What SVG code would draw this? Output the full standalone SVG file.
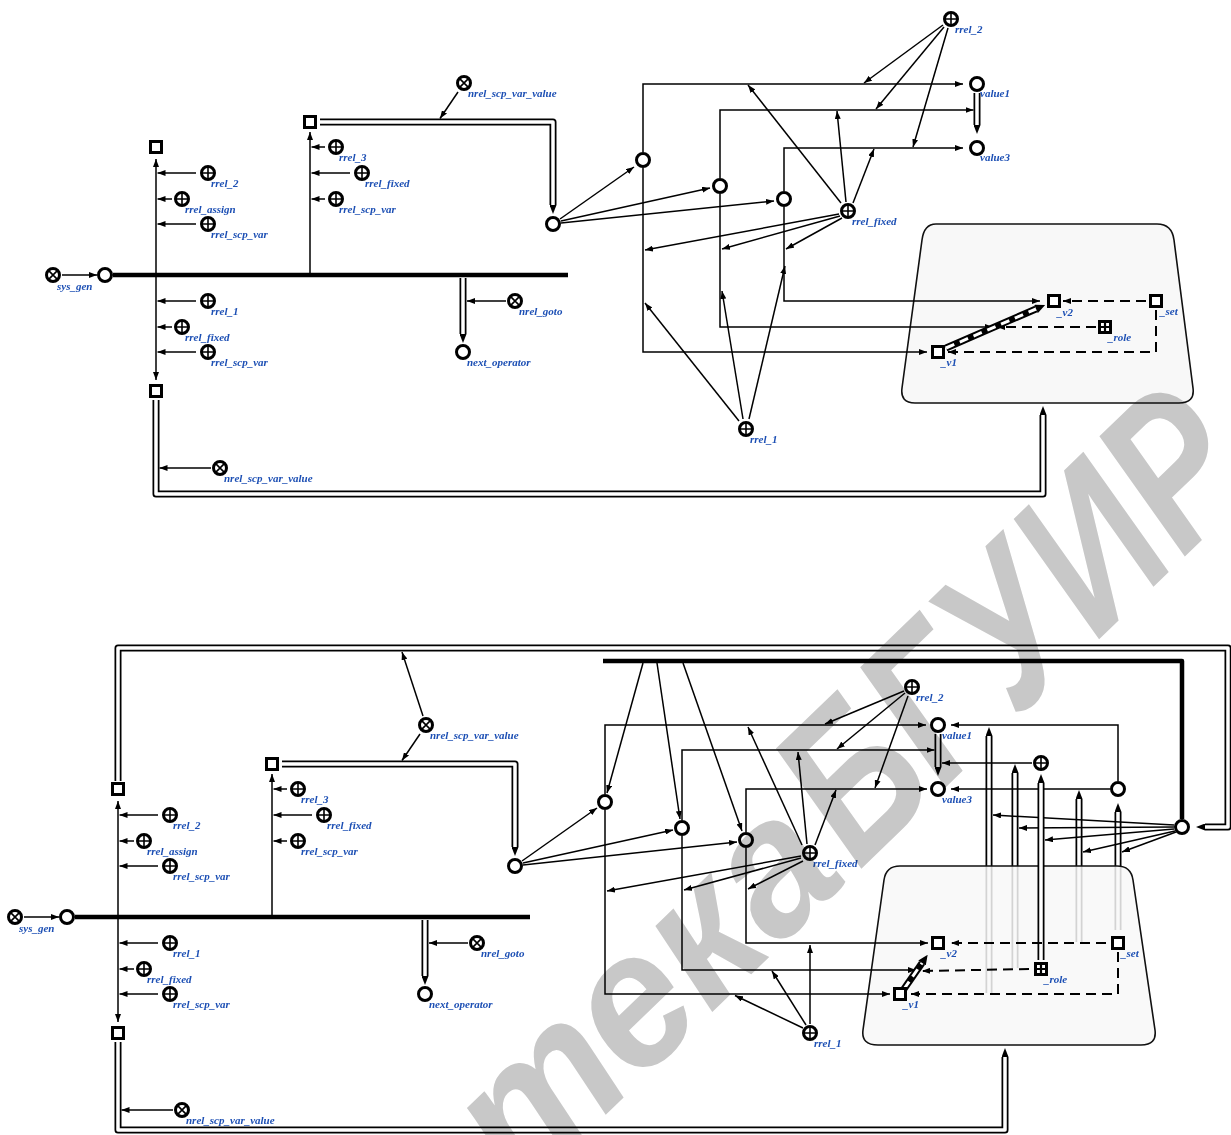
<svg xmlns="http://www.w3.org/2000/svg" xmlns:xlink="http://www.w3.org/1999/xlink" width="1231" height="1135" viewBox="0 0 1231 1135">
<style>
.l{stroke:#000;stroke-width:1.5;fill:none;marker-end:url(#ah)}
.p{stroke:#000;stroke-width:1.5;fill:none}
.tk{stroke:#000;stroke-width:4.5;fill:none;stroke-linejoin:round}
.dlo{stroke:#000;stroke-width:7;fill:none;stroke-linejoin:round;marker-end:url(#dh)}
.dli{stroke:#fff;stroke-width:3.5;fill:none;stroke-linejoin:round}
.ds{stroke:#000;stroke-width:2;stroke-dasharray:10 6;fill:none;marker-end:url(#ah)}
.ao{stroke:#000;stroke-width:7;fill:none;marker-end:url(#bh)}
.ai{stroke:#fff;stroke-width:3;fill:none;stroke-dasharray:9 6}
.t{font-family:"Liberation Serif",serif;font-style:italic;font-weight:bold;font-size:11px;fill:#1c4fb4}
.ct{fill:#f8f8f8;stroke:#111;stroke-width:1.6}
.wm{font-family:"Liberation Sans",sans-serif;font-style:italic;font-weight:bold;fill:#c8c8c8;mix-blend-mode:multiply}
</style>
<defs>
<marker id="ah" viewBox="0 0 8 6" refX="8" refY="3" markerWidth="8" markerHeight="6" markerUnits="userSpaceOnUse" orient="auto"><path d="M0,0L8,3L0,6z" fill="#000"/></marker>
<marker id="dh" viewBox="0 0 9 7" refX="0" refY="3.5" markerWidth="9" markerHeight="7" markerUnits="userSpaceOnUse" orient="auto"><path d="M0,0L9,3.5L0,7z" fill="#000"/></marker>
<marker id="bh" viewBox="0 0 10 9" refX="0" refY="4.5" markerWidth="10" markerHeight="9" markerUnits="userSpaceOnUse" orient="auto"><path d="M0,0L10,4.5L0,9z" fill="#000"/></marker>
<circle id="gc" r="6.5" fill="#fff" stroke="#000" stroke-width="3"/>
<g id="gp"><circle r="6.5" fill="#fff" stroke="#000" stroke-width="3"/><path d="M-6.5,0H6.5M0,-6.5V6.5" stroke="#000" stroke-width="1.6"/></g>
<g id="gx"><circle r="6.5" fill="#fff" stroke="#000" stroke-width="3"/><path d="M-4.6,-4.6L4.6,4.6M-4.6,4.6L4.6,-4.6" stroke="#000" stroke-width="1.6"/></g>
<rect id="gs" x="-5.5" y="-5.5" width="11" height="11" fill="#fff" stroke="#000" stroke-width="3"/>
<g id="gr"><rect x="-5.5" y="-5.5" width="11" height="11" fill="#fff" stroke="#000" stroke-width="3"/><path d="M-5.5,0H5.5M0,-5.5V5.5" stroke="#000" stroke-width="2.2"/></g>
</defs>
<rect width="1231" height="1135" fill="#fff"/>

<!-- contours and faded arcs -->
<g id="contour-top"><path class="ct" d="M936,224L1157,224Q1172,224 1174,240L1193,388Q1195,403 1179,403L915,403Q900,403 902,388L922,240Q924,224 936,224Z"/></g>
<g id="faded-arcs">
<path class="dlo" d="M989,993L989,736"/><path class="dli" d="M989,993L989,736"/>
<path class="dlo" d="M1015,968L1015,773"/><path class="dli" d="M1015,968L1015,773"/>
<path class="dlo" d="M1079,942L1079,799"/><path class="dli" d="M1079,942L1079,799"/>
<path class="dlo" d="M1118,930L1118,812"/><path class="dli" d="M1118,930L1118,812"/>
</g>
<g id="contour-bottom"><path class="ct" fill-opacity="0.85" d="M900,866L1117,866Q1131,866 1133,880L1155,1030Q1157,1045 1141,1045L878,1045Q861,1045 863,1030L884,880Q886,866 900,866Z"/></g>

<g id="connectors">
<!-- TOP -->
<path class="l" d="M62,275L97,275"/>
<path class="tk" d="M113,275L568,275"/>
<path class="l" d="M156,275L156,159"/>
<path class="l" d="M156,275L156,380"/>
<path class="l" d="M196,173L157.5,173"/>
<path class="l" d="M172,199L157.5,199"/>
<path class="l" d="M196,224L157.5,224"/>
<path class="l" d="M196,301L157.5,301"/>
<path class="l" d="M172,327L157.5,327"/>
<path class="l" d="M196,352L157.5,352"/>
<path class="l" d="M310,275L310,132"/>
<path class="l" d="M325,147L311.5,147"/>
<path class="l" d="M350,173L311.5,173"/>
<path class="l" d="M325,199L311.5,199"/>
<path class="dlo" d="M320,122L553,122L553,205"/><path class="dli" d="M320,122L553,122L553,205"/>
<path class="l" d="M458,92L440,118.5"/>
<path class="dlo" d="M463,278L463,334"/><path class="dli" d="M463,278L463,334"/>
<path class="l" d="M506,301L467,301"/>
<path class="l" d="M560,219L634,167"/>
<path class="l" d="M561,221L710,188"/>
<path class="l" d="M561,223L774,201"/>
<path class="l" d="M643,152L643,84L963,84"/>
<path class="l" d="M643,168L643,352L927,352"/>
<path class="l" d="M720,178L720,110L973.5,110"/>
<path class="l" d="M720,194L720,327L993,327"/>
<path class="l" d="M784,191L784,148L963,148"/>
<path class="l" d="M784,207L784,301L1040,301"/>
<path class="dlo" d="M977,93L977,125"/><path class="dli" d="M977,93L977,125"/>
<path class="l" d="M943,25L864,83"/>
<path class="l" d="M944,27L876,109"/>
<path class="l" d="M948,28L913,147"/>
<path class="l" d="M841,203L748,85"/>
<path class="l" d="M846,202L837,111"/>
<path class="l" d="M853,203L874,149"/>
<path class="l" d="M839,214L645,250"/>
<path class="l" d="M840,216L722,249"/>
<path class="l" d="M842,218L786,249"/>
<path class="l" d="M739,421L645,303"/>
<path class="l" d="M743,419L722,291"/>
<path class="l" d="M749,419L785,266"/>
<path class="ds" d="M1146,301L1063,301"/>
<path class="ds" d="M1156,310L1156,352L948,352"/>
<path class="ds" d="M1096,327L997,327"/>
<path class="ao" d="M946,348L1036,309"/><path class="ai" d="M946,348L1036,309"/>
<path class="dlo" d="M156,400L156,494L1043,494L1043,415"/><path class="dli" d="M156,400L156,494L1043,494L1043,415"/>
<path class="l" d="M211,468L159.5,468"/>

<!-- BOTTOM -->
<path class="l" d="M24,917L59,917"/>
<path class="tk" d="M75,917L530,917"/>
<path class="l" d="M118,917L118,801"/>
<path class="l" d="M118,917L118,1022"/>
<path class="l" d="M158,815L119.5,815"/>
<path class="l" d="M134,841L119.5,841"/>
<path class="l" d="M158,866L119.5,866"/>
<path class="l" d="M158,943L119.5,943"/>
<path class="l" d="M134,969L119.5,969"/>
<path class="l" d="M158,994L119.5,994"/>
<path class="l" d="M272,917L272,774"/>
<path class="l" d="M287,789L273.5,789"/>
<path class="l" d="M312,815L273.5,815"/>
<path class="l" d="M287,841L273.5,841"/>
<path class="dlo" d="M282,764L515,764L515,847"/><path class="dli" d="M282,764L515,764L515,847"/>
<path class="l" d="M420,734L402,760.5"/>
<path class="l" d="M423,716L402,652"/>
<path class="dlo" d="M425,920L425,976"/><path class="dli" d="M425,920L425,976"/>
<path class="l" d="M468,943L429,943"/>
<path class="dlo" d="M118,781L118,648L1228,648L1228,827L1205,827"/><path class="dli" d="M118,781L118,648L1228,648L1228,827L1205,827"/>
<path class="dlo" d="M118,1042L118,1130L1005,1130L1005,1057"/><path class="dli" d="M118,1042L118,1130L1005,1130L1005,1057"/>
<path class="l" d="M173,1110L121.5,1110"/>
<path class="l" d="M522,861L597,808"/>
<path class="l" d="M523,863L673,830"/>
<path class="l" d="M523,865L737,842"/>
<path class="tk" d="M603,661L1182,661L1182,819"/>
<path class="l" d="M643,663L607,793"/>
<path class="l" d="M657,663L680,819"/>
<path class="l" d="M683,663L742,831"/>
<path class="l" d="M605,794L605,725L926,725"/>
<path class="l" d="M605,810L605,994L890,994"/>
<path class="l" d="M682,820L682,750L934.5,750"/>
<path class="l" d="M682,836L682,970L916,970"/>
<path class="l" d="M746,832L746,789L927,789"/>
<path class="l" d="M746,848L746,943L928,943"/>
<path class="dlo" d="M938,734L938,767"/><path class="dli" d="M938,734L938,767"/>
<path class="l" d="M904,691L825,724"/>
<path class="l" d="M905,693L837,749"/>
<path class="l" d="M908,696L875,788"/>
<path class="l" d="M802,845L748,727"/>
<path class="l" d="M807,844L798,752"/>
<path class="l" d="M815,845L836,790"/>
<path class="l" d="M801,856L607,891"/>
<path class="l" d="M801,858L684,890"/>
<path class="l" d="M803,861L748,889"/>
<path class="l" d="M803,1028L735,995.5"/>
<path class="l" d="M806,1025L772,971"/>
<path class="l" d="M810,1024L810,945"/>
<path class="l" d="M1032,763L942,763"/>
<path class="l" d="M1118,781L1118,725L951,725"/>
<path class="l" d="M1110,789L951,789"/>
<path class="l" d="M1174,825L993,815"/>
<path class="l" d="M1174,827L1019,828"/>
<path class="l" d="M1174,829L1045,840"/>
<path class="l" d="M1175,831L1083,852"/>
<path class="l" d="M1176,832L1122,852"/>
<path class="dlo" d="M1041,960L1041,783"/><path class="dli" d="M1041,960L1041,783"/>
<path class="ds" d="M1106,943L951,943"/>
<path class="ds" d="M1118,952L1118,994L911,994"/>
<path class="ds" d="M1029,969L922,971"/>
<path class="ao" d="M904,989L922,963"/><path class="ai" d="M904,989L922,963"/>
</g>

<!-- TOP NODES -->
<g id="sys_gen_1"><use href="#gx" x="53" y="275"/><text class="t" x="57" y="290">sys_gen</text></g>
<g id="op_1"><use href="#gc" x="105" y="275"/></g>
<g id="sq_a1"><use href="#gs" x="156" y="147"/></g>
<g id="sq_b1"><use href="#gs" x="156" y="391"/></g>
<g id="sq_c1"><use href="#gs" x="310" y="122"/></g>
<g id="rrel_2_a1"><use href="#gp" x="208" y="173"/><text class="t" x="211" y="187">rrel_2</text></g>
<g id="rrel_assign_1"><use href="#gp" x="182" y="199"/><text class="t" x="185" y="213">rrel_assign</text></g>
<g id="rrel_scp_var_a1"><use href="#gp" x="208" y="224"/><text class="t" x="211" y="238">rrel_scp_var</text></g>
<g id="rrel_1_a1"><use href="#gp" x="208" y="301"/><text class="t" x="211" y="315">rrel_1</text></g>
<g id="rrel_fixed_a1"><use href="#gp" x="182" y="327"/><text class="t" x="185" y="341">rrel_fixed</text></g>
<g id="rrel_scp_var_b1"><use href="#gp" x="208" y="352"/><text class="t" x="211" y="366">rrel_scp_var</text></g>
<g id="rrel_3_1"><use href="#gp" x="336" y="147"/><text class="t" x="339" y="161">rrel_3</text></g>
<g id="rrel_fixed_b1"><use href="#gp" x="362" y="173"/><text class="t" x="365" y="187">rrel_fixed</text></g>
<g id="rrel_scp_var_c1"><use href="#gp" x="336" y="199"/><text class="t" x="339" y="213">rrel_scp_var</text></g>
<g id="nrel_scp_var_value_a1"><use href="#gx" x="464" y="83"/><text class="t" x="468" y="97">nrel_scp_var_value</text></g>
<g id="next_operator_1"><use href="#gc" x="463" y="352"/><text class="t" x="467" y="366">next_operator</text></g>
<g id="nrel_goto_1"><use href="#gx" x="515" y="301"/><text class="t" x="519" y="315">nrel_goto</text></g>
<g id="cd1"><use href="#gc" x="553" y="224"/></g>
<g id="c1_1"><use href="#gc" x="643" y="160"/></g>
<g id="c2_1"><use href="#gc" x="720" y="186"/></g>
<g id="c3_1"><use href="#gc" x="784" y="199"/></g>
<g id="value1_1"><use href="#gc" x="977" y="84"/><text class="t" x="980" y="97">value1</text></g>
<g id="value3_1"><use href="#gc" x="977" y="148"/><text class="t" x="980" y="161">value3</text></g>
<g id="rrel_2_b1"><use href="#gp" x="951" y="19"/><text class="t" x="955" y="33">rrel_2</text></g>
<g id="rrel_fixed_c1"><use href="#gp" x="848" y="211"/><text class="t" x="852" y="225">rrel_fixed</text></g>
<g id="rrel_1_b1"><use href="#gp" x="746" y="429"/><text class="t" x="750" y="443">rrel_1</text></g>
<g id="v2_1"><use href="#gs" x="1054" y="301"/><text class="t" x="1057" y="316">_v2</text></g>
<g id="set_1"><use href="#gs" x="1156" y="301"/><text class="t" x="1160" y="315">_set</text></g>
<g id="role_1"><use href="#gr" x="1105" y="327"/><text class="t" x="1108" y="341">_role</text></g>
<g id="v1_1"><use href="#gs" x="938" y="352"/><text class="t" x="941" y="366">_v1</text></g>
<g id="nrel_scp_var_value_b1"><use href="#gx" x="220" y="468"/><text class="t" x="224" y="482">nrel_scp_var_value</text></g>

<!-- BOTTOM NODES -->
<g id="sys_gen_2"><use href="#gx" x="15" y="917"/><text class="t" x="19" y="932">sys_gen</text></g>
<g id="op_2"><use href="#gc" x="67" y="917"/></g>
<g id="sq_a2"><use href="#gs" x="118" y="789"/></g>
<g id="sq_b2"><use href="#gs" x="118" y="1033"/></g>
<g id="sq_c2"><use href="#gs" x="272" y="764"/></g>
<g id="rrel_2_a2"><use href="#gp" x="170" y="815"/><text class="t" x="173" y="829">rrel_2</text></g>
<g id="rrel_assign_2"><use href="#gp" x="144" y="841"/><text class="t" x="147" y="855">rrel_assign</text></g>
<g id="rrel_scp_var_a2"><use href="#gp" x="170" y="866"/><text class="t" x="173" y="880">rrel_scp_var</text></g>
<g id="rrel_1_a2"><use href="#gp" x="170" y="943"/><text class="t" x="173" y="957">rrel_1</text></g>
<g id="rrel_fixed_a2"><use href="#gp" x="144" y="969"/><text class="t" x="147" y="983">rrel_fixed</text></g>
<g id="rrel_scp_var_b2"><use href="#gp" x="170" y="994"/><text class="t" x="173" y="1008">rrel_scp_var</text></g>
<g id="rrel_3_2"><use href="#gp" x="298" y="789"/><text class="t" x="301" y="803">rrel_3</text></g>
<g id="rrel_fixed_b2"><use href="#gp" x="324" y="815"/><text class="t" x="327" y="829">rrel_fixed</text></g>
<g id="rrel_scp_var_c2"><use href="#gp" x="298" y="841"/><text class="t" x="301" y="855">rrel_scp_var</text></g>
<g id="nrel_scp_var_value_a2"><use href="#gx" x="426" y="725"/><text class="t" x="430" y="739">nrel_scp_var_value</text></g>
<g id="next_operator_2"><use href="#gc" x="425" y="994"/><text class="t" x="429" y="1008">next_operator</text></g>
<g id="nrel_goto_2"><use href="#gx" x="477" y="943"/><text class="t" x="481" y="957">nrel_goto</text></g>
<g id="cd2"><use href="#gc" x="515" y="866"/></g>
<g id="c1_2"><use href="#gc" x="605" y="802"/></g>
<g id="c2_2"><use href="#gc" x="682" y="828"/></g>
<g id="c3_2"><use href="#gc" x="746" y="840"/></g>
<g id="value1_2"><use href="#gc" x="938" y="725"/><text class="t" x="942" y="739">value1</text></g>
<g id="value3_2"><use href="#gc" x="938" y="789"/><text class="t" x="942" y="803">value3</text></g>
<g id="rrel_2_b2"><use href="#gp" x="912" y="687"/><text class="t" x="916" y="701">rrel_2</text></g>
<g id="rrel_fixed_c2"><use href="#gp" x="810" y="853"/><text class="t" x="813" y="867">rrel_fixed</text></g>
<g id="rrel_1_b2"><use href="#gp" x="810" y="1033"/><text class="t" x="814" y="1047">rrel_1</text></g>
<g id="rr_unnamed"><use href="#gp" x="1041" y="763"/></g>
<g id="cr2"><use href="#gc" x="1118" y="789"/></g>
<g id="cbig2"><use href="#gc" x="1182" y="827"/></g>
<g id="v2_2"><use href="#gs" x="938" y="943"/><text class="t" x="941" y="957">_v2</text></g>
<g id="set_2"><use href="#gs" x="1118" y="943"/><text class="t" x="1121" y="957">_set</text></g>
<g id="role_2"><use href="#gr" x="1041" y="969"/><text class="t" x="1044" y="983">_role</text></g>
<g id="v1_2"><use href="#gs" x="900" y="994"/><text class="t" x="903" y="1008">_v1</text></g>
<g id="nrel_scp_var_value_b2"><use href="#gx" x="182" y="1110"/><text class="t" x="186" y="1124">nrel_scp_var_value</text></g>

<g id="watermark">
<text class="wm" font-size="192" text-anchor="end" transform="translate(851,878) rotate(-44) scale(0.95,1)">Библиотека</text>
<text class="wm" font-size="212" text-anchor="end" transform="translate(1262,482) rotate(-44) scale(0.78,1)">БГУИР</text>
</g>
</svg>
